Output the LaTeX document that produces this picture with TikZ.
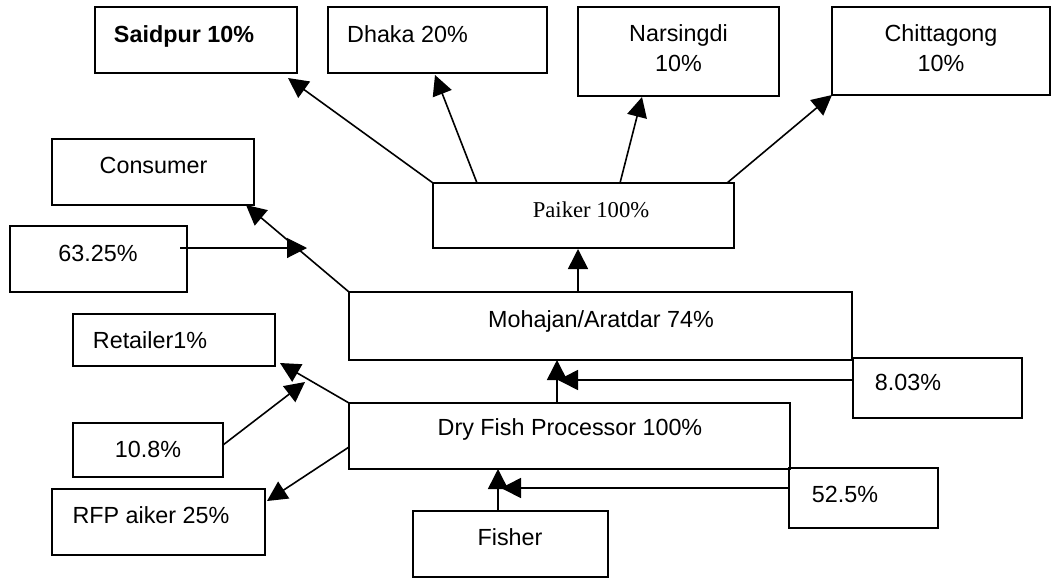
\documentclass[tikz,border=0pt]{standalone}
\usepackage{fontspec}
\setmainfont{Liberation Sans}
\newfontfamily\timesf{Liberation Serif}
\usetikzlibrary{arrows.meta,calc}
\newcommand\fsz{\fontsize{17.5}{22.5}\selectfont}
\newcommand\mkbox[5]{\node[box, minimum width=#4*0.75pt, minimum height=#5*0.75pt] (#1) at (#2,#3) {};}
\begin{document}
\begin{tikzpicture}[x=0.75pt,y=-0.75pt,
 box/.style={draw, line width=1.9pt, inner sep=0pt, outer sep=0pt},
 txt/.style={font=\fsz, inner sep=0pt, anchor=base, align=center},
 arr/.style={line width=1.2pt, -{Triangle[length=15pt,width=15pt]}},
 thinarr/.style={line width=0.8pt, -{Triangle[length=15pt,width=15pt]}}]
\useasboundingbox (0,0) rectangle (1062,579);

\mkbox{saidpur}{196}{40}{202}{66}
\node[txt,font=\fsz\bfseries] (saidpur-t) at (184,42) {Saidpur 10\%};
\mkbox{dhaka}{437.5}{40}{219}{66}
\node[txt] (dhaka-t) at (407.5,42) {Dhaka 20\%};
\mkbox{nars}{678.5}{51.5}{201}{89}
\node[txt,anchor=center] (nars-t) at (678.5,48) {Narsingdi\\10\%};
\mkbox{chit}{941}{51}{218}{88}
\node[txt,anchor=center] (chit-t) at (941,48) {Chittagong\\10\%};

\mkbox{consumer}{153}{172}{202}{66}
\node[txt] (consumer-t) at (153.5,173) {Consumer};
\mkbox{p63}{98.5}{259}{177}{66}
\node[txt] (p63-t) at (98,261) {63.25\%};
\mkbox{paiker}{583.5}{215.5}{301}{65}
\node[txt,font=\fontsize{17}{22}\timesf] (paiker-t) at (591,217) {Paiker 100\%};
\mkbox{mohajan}{600.5}{326}{503}{68}
\node[txt] (mohajan-t) at (601,327) {Mohajan/Aratdar 74\%};
\mkbox{retailer}{174}{340}{202}{52}
\node[txt] (retailer-t) at (150,348) {Retailer1\%};
\mkbox{p803}{937.5}{388}{169}{60}
\node[txt] (p803-t) at (908,390) {8.03\%};
\mkbox{dryfish}{569.5}{436}{441}{66}
\node[txt] (dryfish-t) at (570,435) {Dry Fish Processor 100\%};
\mkbox{p108}{148}{450}{150}{54}
\node[txt] (p108-t) at (148,457) {10.8\%};
\mkbox{rfp}{158.5}{522}{213}{66}
\node[txt] (rfp-t) at (151,523) {RFP aiker 25\%};
\mkbox{fisher}{510.5}{544}{195}{66}
\node[txt] (fisher-t) at (510,545) {Fisher};
\mkbox{p525}{863.5}{498}{149}{60}
\node[txt] (p525-t) at (845,502) {52.5\%};

\draw[arr] (paiker.north west) -- ($(saidpur.south east)+(-9,5)$);
\draw[arr] ($(paiker.north west)+(44,0)$) -- ($(dhaka.south west)+(107,2)$);
\draw[arr] ($(paiker.north west)+(187,0)$) -- ($(nars.south west)+(64,1)$);
\draw[arr] ($(paiker.north west)+(294,0)$) -- (chit.south west);
\draw[arr] ($(mohajan.north west)+(229,0)$) -- ($(paiker.south west)+(145,1)$);
\draw[arr] (mohajan.north west) -- ($(consumer.south east)+(-8,0)$);
\draw[thinarr] ($(p63.east)+(-7,-11)$) -- ($(p63.east)+(120,-11)$);
\draw[arr] ($(dryfish.north west)+(208,0)$) -- ($(mohajan.south west)+(208,0)$);
\draw[arr] ($(p803.west)+(0,-8)$) -- ($(mohajan.south west)+(209,20)$);
\draw[arr] (dryfish.north west) -- ($(retailer.south east)+(5,-3)$);
\draw[arr] ($(p108.east)+(0,-5)$) -- ($(retailer.south east)+(30,16)$);
\draw[arr] ($(dryfish.west)+(0,11)$) -- ($(rfp.east)+(2,-21)$);
\draw[arr] ($(fisher.north west)+(85,0)$) -- ($(dryfish.south west)+(149,0)$);
\draw[arr] ($(p525.west)+(0,-10)$) -- ($(dryfish.south west)+(152,19)$);
\end{tikzpicture}
\end{document}
